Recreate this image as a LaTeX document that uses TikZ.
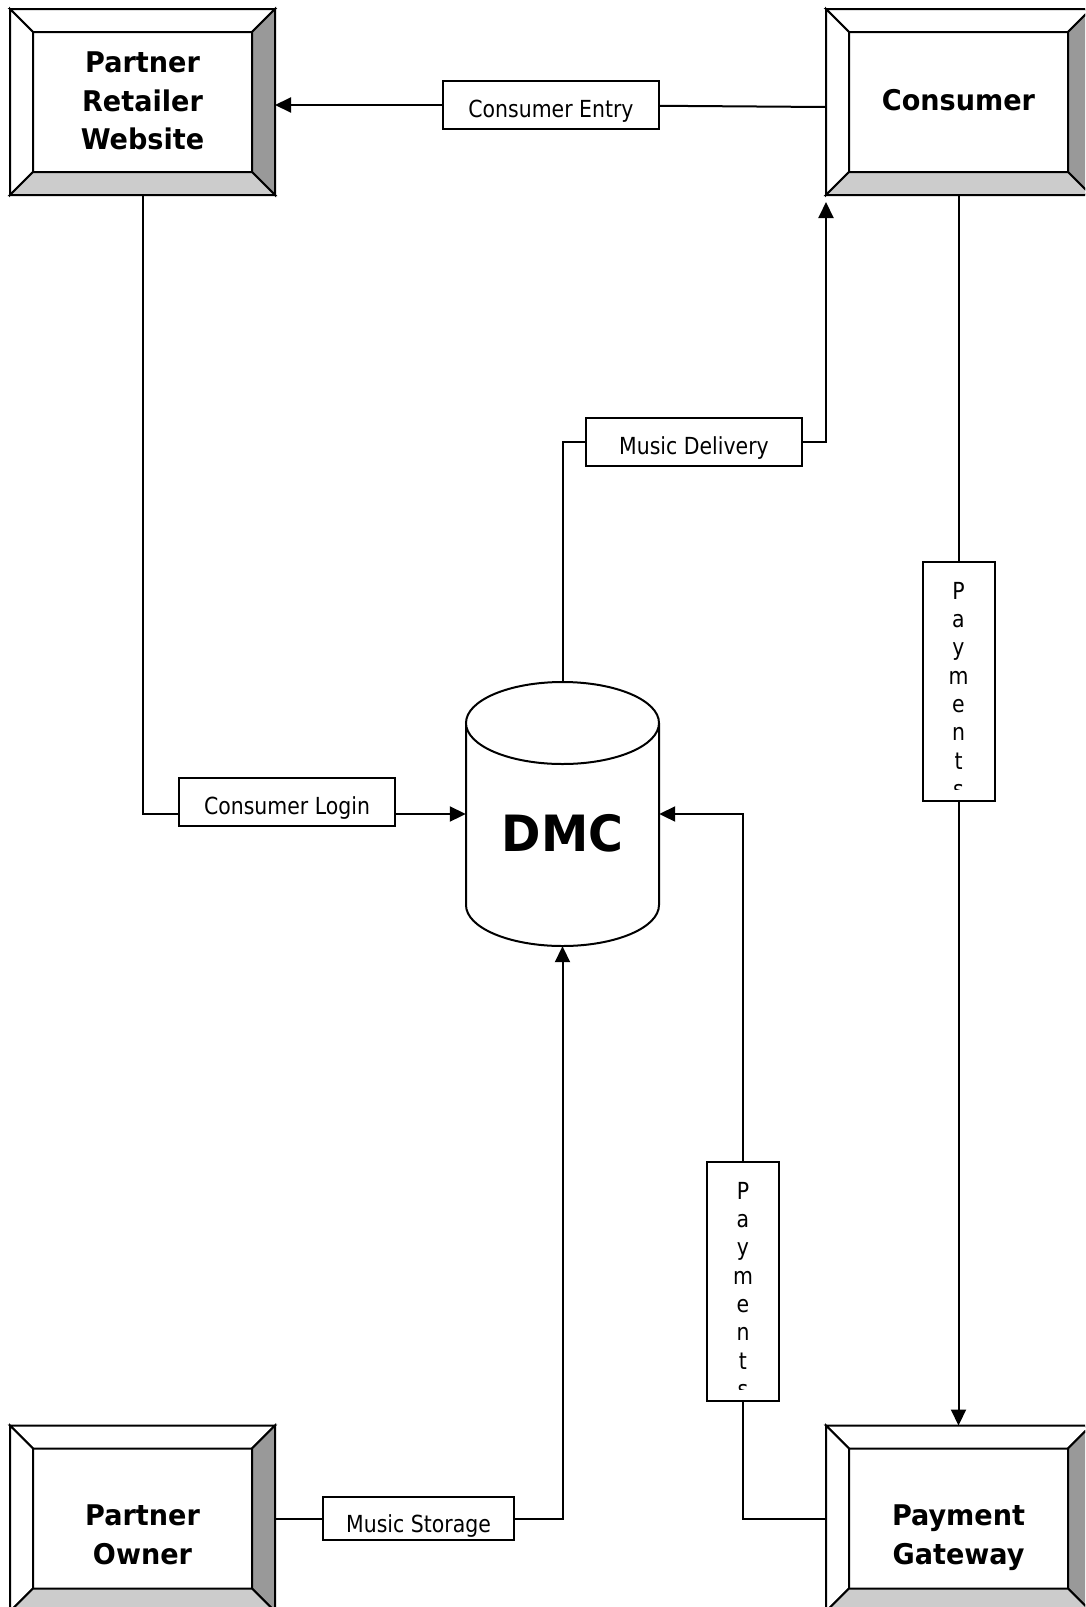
\documentclass[tikz,border=0pt]{standalone}
\usepackage{fontspec}
\usetikzlibrary{arrows.meta}
\newfontfamily\lblfont[FakeStretch=0.87]{DejaVu Sans}
\newfontfamily\ttlfont[FakeStretch=0.95]{DejaVu Sans}
\definecolor{bevdark}{gray}{0.6}
\definecolor{bevlight}{gray}{0.8}
\tikzset{
  wire/.style={line width=2pt},
  flow/.style={line width=2pt,-{Triangle[length=16pt,width=15pt]}},
  bevbox/.style={draw,line width=2pt,fill=white,minimum width=263pt,minimum height=184pt,inner sep=0pt},
  ttl/.style={font=\ttlfont\bfseries\fontsize{28.5}{38.5}\selectfont,align=center,inner sep=0pt,anchor=north},
  lbl/.style={draw,line width=2pt,fill=white,inner sep=0pt,minimum width=216pt,minimum height=48pt,text height=25pt,text depth=0pt,font=\lblfont\fontsize{23.5}{29.2}\selectfont},
  vlbl/.style={draw,line width=2pt,fill=white,inner sep=0pt,minimum width=72pt,minimum height=239pt},
  vtxt/.style={font=\lblfont\fontsize{23.5}{28.3}\selectfont,align=center,inner sep=0pt,anchor=north}
}
\begin{document}
\begin{tikzpicture}[x=1pt,y=-1pt]
\clip (0,0) rectangle (1085,1607);
% bevelled boxes
\node[bevbox] (prw) at (142.5,102) {};
\node[bevbox] (cons) at (958.5,102) {};
\node[bevbox] (pown) at (142.5,1518.5) {};
\node[bevbox] (pgw) at (958.5,1518.5) {};
\foreach \b in {prw,cons,pown,pgw}{
  \draw[wire,fill=white] (\b.north west) -- (\b.north east) -- ([shift={(-23,23)}]\b.north east) -- ([shift={(23,23)}]\b.north west) -- cycle;
  \draw[wire,fill=white] (\b.north west) -- (\b.south west) -- ([shift={(23,-23)}]\b.south west) -- ([shift={(23,23)}]\b.north west) -- cycle;
  \draw[wire,fill=bevdark] (\b.north east) -- (\b.south east) -- ([shift={(-23,-23)}]\b.south east) -- ([shift={(-23,23)}]\b.north east) -- cycle;
  \draw[wire,fill=bevlight] (\b.south west) -- (\b.south east) -- ([shift={(-23,-23)}]\b.south east) -- ([shift={(23,-23)}]\b.south west) -- cycle;
}
\node[ttl] (prw-t) at (142.5,52) {Partner\\Retailer\\Website};
\node[ttl] (cons-t) at (958.5,89) {Consumer};
\node[ttl] (pown-t) at (142.5,1505) {Partner\\Owner};
\node[ttl] (pgw-t) at (958.5,1505) {Payment\\Gateway};
% DMC store
\draw[wire,fill=white] (466,723) -- (466,905) .. controls (466,927.6) and (509.2,946) .. (562.5,946) .. controls (615.8,946) and (659,927.6) .. (659,905) -- (659,723);
\draw[wire,fill=white] (562.5,723) ellipse [x radius=96.5,y radius=41];
\node[minimum width=193pt,minimum height=264pt,inner sep=0pt,text height=75pt,text depth=0pt,font=\ttlfont\bfseries\fontsize{50}{60}\selectfont] (dmc) at (562.5,814) {DMC};
% flow labels
\node[lbl] (entry) at (551,105) {Consumer Entry};
\node[lbl] (deliv) at (694,441.5) {Music Delivery};
\node[lbl] (login) at (287,801.5) {Consumer Login};
\node[lbl,minimum width=191pt,minimum height=43pt] (store) at (418.5,1518.5) {};
\node[vlbl] (pay1) at (958.5,681.5) {};
\node[vlbl] (pay2) at (743,1281.5) {};
\begin{scope}
\clip ([yshift=4pt]store.south west) rectangle (store.north east);
\node[font=\lblfont\fontsize{23.5}{29.2}\selectfont,inner sep=0pt,anchor=base] (store-t) at (418.5,1532) {Music Storage};
\end{scope}
\begin{scope}
\clip (pay1.north west) rectangle ([yshift=13pt]pay1.south east);
\node[vtxt] (pay1-t) at ([yshift=-21pt]pay1.north) {P\\a\\y\\m\\e\\n\\t\\s};
\end{scope}
\begin{scope}
\clip (pay2.north west) rectangle ([yshift=13pt]pay2.south east);
\node[vtxt] (pay2-t) at ([yshift=-21pt]pay2.north) {P\\a\\y\\m\\e\\n\\t\\s};
\end{scope}
% connectors
\draw[wire] ([yshift=-2pt]cons.west |- entry) -- (entry);
\draw[flow] (entry) -- (prw.east |- entry);
\draw[wire] (dmc.north) |- (deliv);
\draw[flow] (deliv) -| ([yshift=-7pt]cons.south west);
\draw[wire] (prw.south) |- (login.west |- dmc.west);
\draw[flow] (login.east |- dmc.west) -- (dmc.west);
\draw[wire] (cons) -- (pay1);
\draw[flow] (pay1) -- (pgw);
\draw[wire] (pgw.west) -| (pay2);
\draw[flow] (pay2) |- (dmc.east);
\draw[wire] (pown) -- (store);
\draw[flow] (store) -| (dmc.south);
\end{tikzpicture}
\end{document}
